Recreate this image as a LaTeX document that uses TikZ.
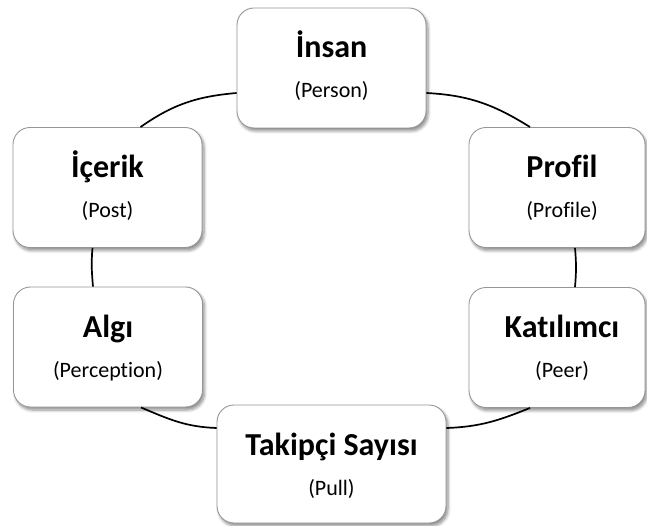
\documentclass[tikz,border=0pt]{standalone}
\usepackage{fontspec}
\setmainfont[Ligatures=NoCommon]{Carlito}
\usetikzlibrary{calc,shadows.blur}
\definecolor{boxgray}{RGB}{150,150,150}
\begin{document}
\begin{tikzpicture}[x=1pt,y=1pt,
  card/.style={draw=boxgray, line width=0.9pt, fill=white, rounded corners=17pt,
    minimum width=189pt, minimum height=120pt, inner sep=0pt,
    blur shadow={shadow xshift=2pt, shadow yshift=-3pt, shadow blur radius=3pt,
      shadow blur steps=6, shadow opacity=45}},
  ttl/.style={anchor=base, inner sep=0pt, font=\fontsize{32}{38}\selectfont\bfseries},
  sub/.style={anchor=base, inner sep=0pt, font=\fontsize{22}{26}\selectfont},
  link/.style={draw=black, line width=1.7pt}]
\useasboundingbox (0,0) rectangle (647,-526);

% cycle boxes
\node[card] (insan) at (331.5,-68) {};
\node[card] (icerik) at (107.5,-187.5) {};
\node[card, minimum width=176pt] (profil) at (557,-187.5) {};
\node[card] (algi) at (108,-347) {};
\node[card, minimum width=176pt] (katilimci) at (557,-347.5) {};
\node[card, minimum width=229pt, minimum height=118pt] (takipci) at (331.5,-464) {};

% titles and subtitles
\node[ttl] (insan-t) at ($(insan.center)+(0,10)$) {İnsan};
\node[sub] (insan-s) at ($(insan.center)+(0,-30)$) {(Person)};
\node[ttl] (icerik-t) at ($(icerik.center)+(0,10)$) {İçerik};
\node[sub] (icerik-s) at ($(icerik.center)+(0,-30)$) {(Post)};
\node[ttl] (profil-t) at ($(profil.center)+(5,10)$) {Profil};
\node[sub] (profil-s) at ($(profil.center)+(5,-30)$) {(Profile)};
\node[ttl] (algi-t) at ($(algi.center)+(0,10)$) {Algı};
\node[sub] (algi-s) at ($(algi.center)+(0,-30)$) {(Perception)};
\node[ttl] (katilimci-t) at ($(katilimci.center)+(5,10)$) {Katılımcı};
\node[sub] (katilimci-s) at ($(katilimci.center)+(5,-30)$) {(Peer)};
\node[ttl] (takipci-t) at ($(takipci.center)+(0,9)$) {Takipçi Sayısı};
\node[sub] (takipci-s) at ($(takipci.center)+(0,-31)$) {(Pull)};

% connecting arcs of the cycle
\draw[link] ($(icerik.north)+(33,0)$) to[out=35,in=185] ($(insan.west)+(0,-25)$);
\draw[link] ($(insan.east)+(0,-25)$) to[out=-3,in=148] ($(profil.north)+(-27,0)$);
\draw[link] ($(profil.south)+(18,0)$) to[out=-85,in=85] ($(katilimci.north)+(18,0)$);
\draw[link] ($(katilimci.south)+(-27,0)$) to[out=202,in=2] ($(takipci.east)+(0,36)$);
\draw[link] ($(takipci.west)+(0,36)$) to[out=178,in=-23] ($(algi.south)+(33,0)$);
\draw[link] ($(algi.north)+(-15,0)$) to[out=95,in=-95] ($(icerik.south)+(-15,0)$);
\end{tikzpicture}
\end{document}
